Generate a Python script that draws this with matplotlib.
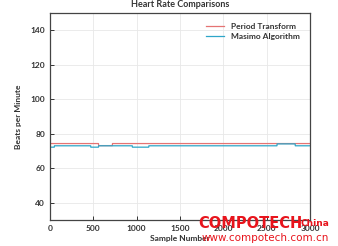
import numpy as np
import matplotlib
matplotlib.use("Agg")
import matplotlib.pyplot as plt

# step data: (start sample, value)
period_steps = [0, 560, 720]
period_vals = [74.3, 73.1, 74.3]

masimo_steps = [0, 50, 470, 560, 950, 1140, 2620, 2830]
masimo_vals = [72.2, 73.0, 72.2, 73.0, 72.2, 73.0, 74.1, 73.0]

n_samples = 3000

def expand(steps, vals, n):
    x = np.arange(n)
    y = np.empty(n)
    for i, s in enumerate(steps):
        y[s:] = vals[i]
    return x, y

plt.rcParams['font.family'] = ['Lato', 'DejaVu Sans']
plt.rcParams['font.weight'] = 'bold'

fig = plt.figure(figsize=(3.38, 2.46), dpi=100)
ax = fig.add_axes([0.148, 0.106, 0.769, 0.841])

x, y = expand(period_steps, period_vals, n_samples)
ax.plot(x, y, color='#e57373', lw=0.9, label='Period Transform')
x, y = expand(masimo_steps, masimo_vals, n_samples)
ax.plot(x, y, color='#2ea6c8', lw=0.9, label='Masimo Algorithm')

ax.set_xlim(0, 3000)
ax.set_ylim(30, 150)
ax.set_xticks([0, 500, 1000, 1500, 2000, 2500, 3000])
ax.set_yticks([40, 60, 80, 100, 120, 140])
ax.grid(True, color='#e8e8e8', lw=0.6)
ax.tick_params(direction='in', labelsize=6, length=3, width=0.7, colors='#333333')
for sp in ax.spines.values():
    sp.set_color('#444444')
    sp.set_linewidth(0.9)

ax.set_title('Heart Rate Comparisons', fontsize=6.5, fontweight='bold', pad=4, color='#333333')
ax.set_xlabel('Sample Number', fontsize=6, fontweight='bold', labelpad=2, color='#333333')
ax.set_ylabel('Beats per Minute', fontsize=6, fontweight='bold', labelpad=6, color='#333333')

leg = ax.legend(loc='upper right', frameon=False, fontsize=6, handlelength=2.2,
                borderaxespad=0.8, labelspacing=0.3)
for t in leg.get_texts():
    t.set_color('#333333')

# watermark
fig.text(0.586, 0.075, 'COMPOTECH', color='#e8141c', fontsize=10.5, fontweight='bold',
         family='DejaVu Sans')
fig.text(0.888, 0.081, 'China', color='#e8141c', fontsize=6.5, fontweight='bold',
         family='DejaVu Sans')
fig.text(0.595, 0.02, 'www.compotech.com.cn', color='#e8141c', fontsize=7.5,
         fontweight='normal', family='DejaVu Sans')

plt.savefig('out.png', dpi=100)
